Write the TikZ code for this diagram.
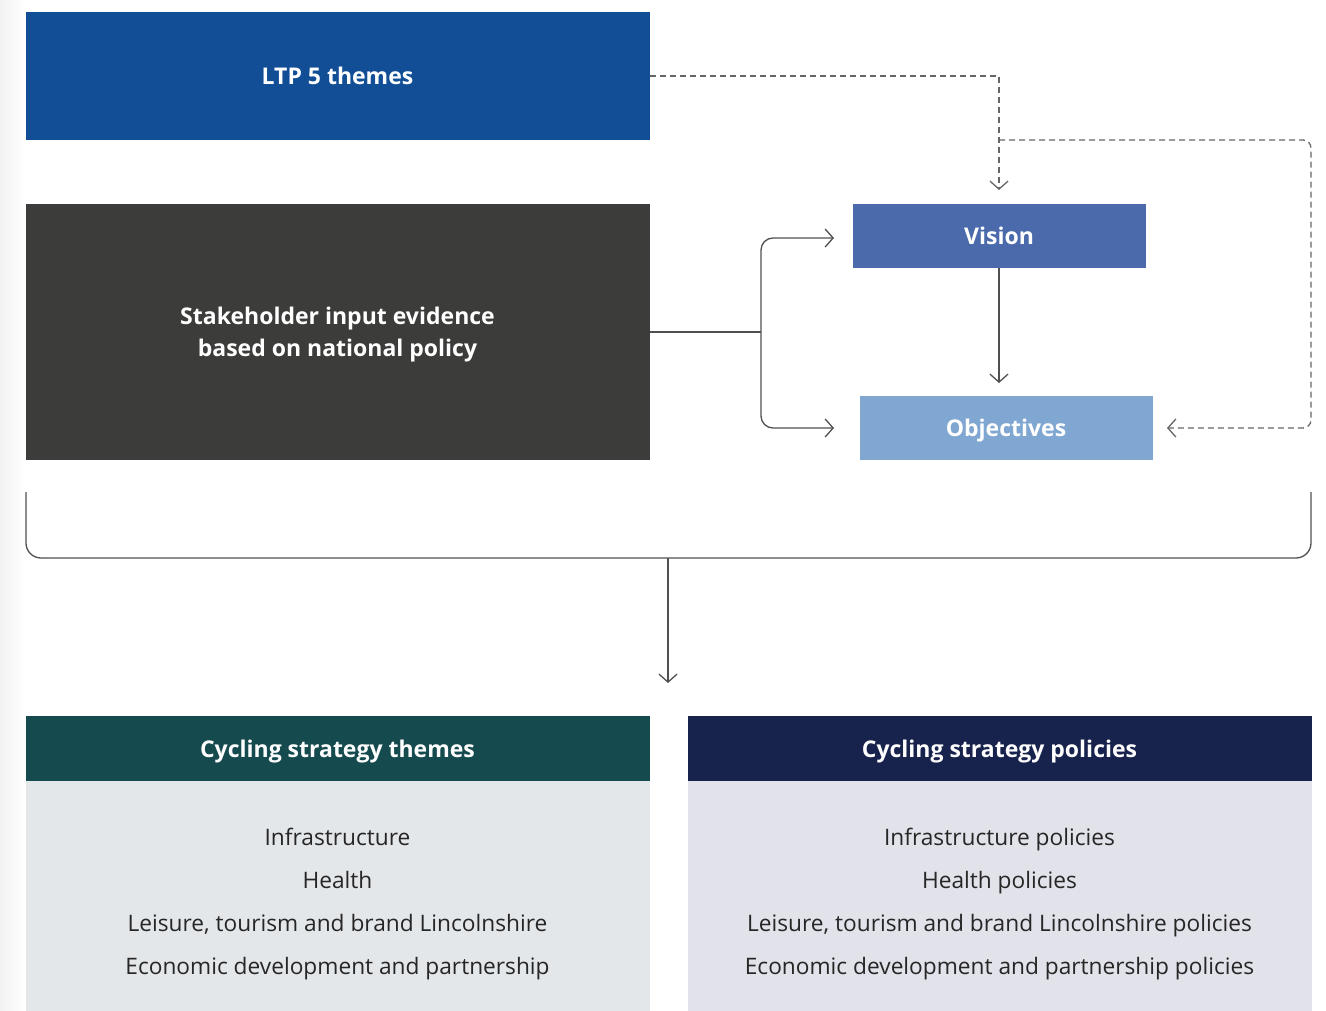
\documentclass[tikz,border=0pt]{standalone}
\usepackage{fontspec}
\setmainfont{Open Sans}
\usetikzlibrary{arrows.meta}
\definecolor{ltpblue}{HTML}{114E96}
\definecolor{stakegray}{HTML}{3C3C3A}
\definecolor{visionblue}{HTML}{4A6AAB}
\definecolor{objblue}{HTML}{80A7D1}
\definecolor{themehead}{HTML}{154A4F}
\definecolor{polhead}{HTML}{17234C}
\definecolor{themebody}{HTML}{E3E7EA}
\definecolor{polbody}{HTML}{E1E2EA}
\definecolor{linegray}{HTML}{505050}
\definecolor{dashgray}{HTML}{666666}
\begin{document}
\begin{tikzpicture}[x=1pt,y=-1pt,
  box/.style={rectangle, inner sep=0pt, text=white, align=center,
    font=\bfseries\fontsize{23}{32}\selectfont},
  label/.style={inner sep=0pt, text=white, align=center,
    font=\bfseries\fontsize{23}{32}\selectfont},
  bodytext/.style={inner sep=0pt, align=center, text=black!85,
    font=\fontsize{22.7}{43.3}\selectfont},
  tip/.style={-{Straight Barb[length=8pt,width=18pt,line width=1.3pt]}},
  solidline/.style={draw=linegray, line width=1.3pt},
  dashline/.style={draw=dashgray, line width=1.3pt, dash pattern=on 6pt off 4pt},
]
\useasboundingbox (0,0) rectangle (1326,1011);
\shade[left color=black!5, right color=white] (0,0) rectangle (26,1011);

% boxes
\node[box, fill=ltpblue, minimum width=624pt, minimum height=128pt] (ltp) at (337.5,76) {};
\node[label] (ltpt) at (337.5,76) {LTP 5 themes};
\node[box, fill=stakegray, minimum width=624pt, minimum height=256pt] (stake) at (337.5,332) {};
\node[label] (staket) at (337.5,335) {Stakeholder input evidence\\based on national policy};
\node[box, fill=visionblue, minimum width=293pt, minimum height=64pt] (vision) at (999,236) {};
\node[label] (visiont) at (999,236) {Vision};
\node[box, fill=objblue, minimum width=293pt, minimum height=64pt] (obj) at (1006,428) {};
\node[label] (objt) at (1006,431) {Objectives};

\node[box, fill=themehead, minimum width=624pt, minimum height=65pt] (thead) at (337.5,748.5) {};
\node[label] (theadt) at (337.5,751.5) {Cycling strategy themes};
\node[rectangle, fill=themebody, minimum width=624pt, minimum height=230pt, inner sep=0pt] (tbody) at (337.5,896) {};
\node[bodytext] (tlist) at (337.5,904) {Infrastructure\\Health\\Leisure, tourism and brand Lincolnshire\\Economic development and partnership};

\node[box, fill=polhead, minimum width=624pt, minimum height=65pt] (phead) at (999.5,748.5) {};
\node[label] (pheadt) at (999.5,751.5) {Cycling strategy policies};
\node[rectangle, fill=polbody, minimum width=624pt, minimum height=230pt, inner sep=0pt] (pbody) at (999.5,896) {};
\node[bodytext] (plist) at (999.5,904) {Infrastructure policies\\Health policies\\Leisure, tourism and brand Lincolnshire policies\\Economic development and partnership policies};

% coordinates
\coordinate (vtop) at (999,190);
\coordinate (loopj) at (999,140);
\coordinate (loopc) at (1311,428);
\coordinate (objr) at (1167,428);
\coordinate (branch) at (761,332);
\coordinate (vin) at (834,238);
\coordinate (oin) at (834,428);
\coordinate (objtop) at (999,383);
\coordinate (brl) at (26,492);
\coordinate (brc) at (1311,558);
\coordinate (brr) at (1311,492);
\coordinate (brm) at (668,558);
\coordinate (brend) at (668,683);

% dashed connectors
\draw[dashline, tip] (ltp.east) -| (vtop);
\draw[dashline, tip, rounded corners=8pt] (loopj) -| (loopc) -- (objr);

% solid connectors
\draw[solidline] (stake.east) -- (branch);
\draw[solidline, tip, rounded corners=12pt] (branch) |- (vin);
\draw[solidline, tip, rounded corners=12pt] (branch) |- (oin);
\draw[solidline, tip] (vision.south) -- (objtop);

% bracket
\draw[solidline, rounded corners=15pt] (brl) |- (brc) -- (brr);
\draw[solidline, tip] (brm) -- (brend);
\end{tikzpicture}
\end{document}
